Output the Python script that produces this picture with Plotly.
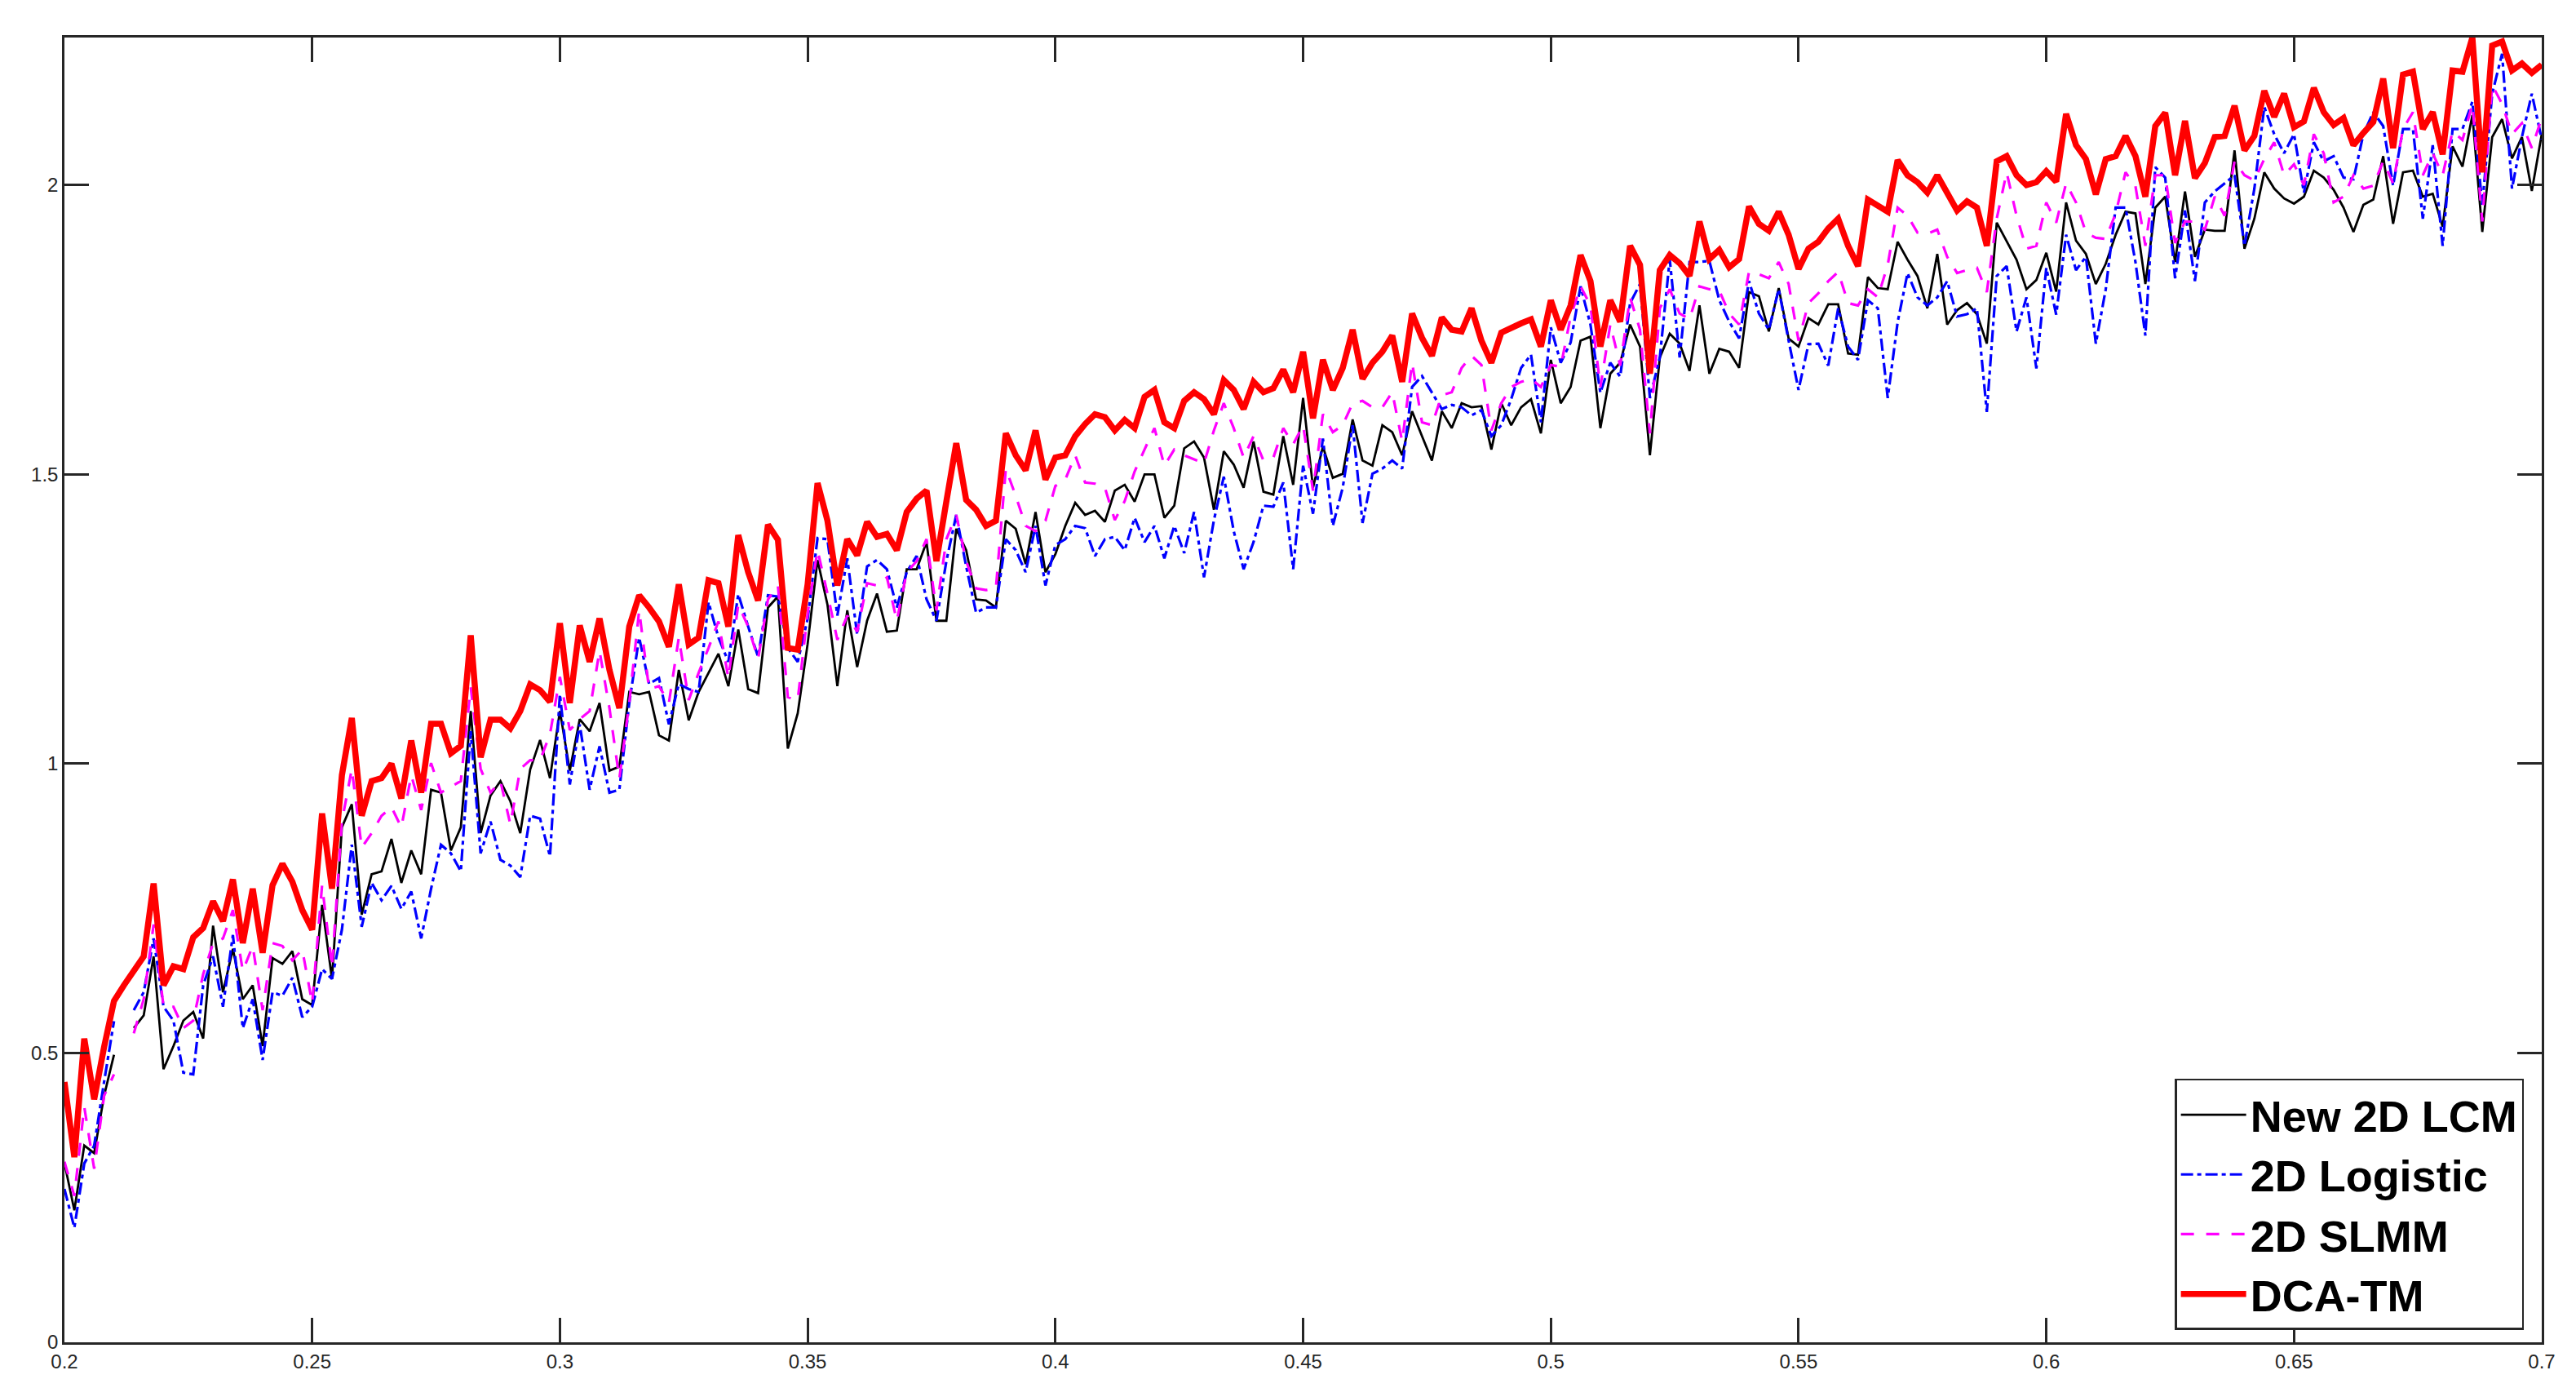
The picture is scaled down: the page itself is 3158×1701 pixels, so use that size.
import numpy as np
import plotly.graph_objects as go

# values, one sample every 0.002 from 0.2 to 0.7
new_2d_lcm = [
    0.31, 0.228, 0.34, 0.327, 0.426, 0.497, None, 0.543, 0.565, 0.667,
    0.472, 0.512, 0.556, 0.571, 0.525, 0.72, 0.605, 0.68, 0.593, 0.617,
    0.512, 0.664, 0.654, 0.676, 0.593, 0.583, 0.756, 0.628, 0.89, 0.93,
    0.739, 0.809, 0.814, 0.87, 0.794, 0.85, 0.809, 0.955, 0.95, 0.85,
    0.89, 1.091, 0.88, 0.945, 0.97, 0.935, 0.88, 0.99, 1.041, 0.975,
    1.091, 0.988, 1.077, 1.056, 1.105, 0.988, 0.995, 1.124, 1.12, 1.124,
    1.049, 1.04, 1.162, 1.075, 1.124, 1.157, 1.19, 1.134, 1.232, 1.129,
    1.122, 1.27, 1.289, 1.026, 1.087, 1.207, 1.352, 1.275, 1.134, 1.265,
    1.167, 1.247, 1.294, 1.228, 1.23, 1.336, 1.336, 1.383, 1.247, 1.247,
    1.406, 1.369, 1.284, 1.282, 1.27, 1.42, 1.406, 1.345, 1.435, 1.331,
    1.362, 1.411, 1.451, 1.43, 1.437, 1.418, 1.472, 1.482, 1.453, 1.5,
    1.5, 1.425, 1.446, 1.545, 1.557, 1.529, 1.439, 1.54, 1.517, 1.477,
    1.557, 1.47, 1.465, 1.566, 1.482, 1.632, 1.477, 1.548, 1.494, 1.501,
    1.595, 1.524, 1.515, 1.585, 1.573, 1.533, 1.609, 1.566, 1.524, 1.609,
    1.58, 1.623, 1.616, 1.618, 1.543, 1.623, 1.585, 1.616, 1.63, 1.571,
    1.698, 1.623, 1.651, 1.731, 1.738, 1.58, 1.674, 1.693, 1.759, 1.721,
    1.533, 1.702, 1.743, 1.726, 1.679, 1.792, 1.674, 1.717, 1.712, 1.684,
    1.815, 1.808, 1.747, 1.822, 1.735, 1.721, 1.77, 1.759, 1.794, 1.794,
    1.709, 1.707, 1.841, 1.822, 1.82, 1.902, 1.871, 1.843, 1.787, 1.881,
    1.759, 1.784, 1.796, 1.777, 1.726, 1.935, 1.902, 1.871, 1.82, 1.836,
    1.883, 1.816, 1.97, 1.904, 1.881, 1.829, 1.864, 1.914, 1.954, 1.951,
    1.829, 1.961, 1.98, 1.867, 1.989, 1.876, 1.923, 1.921, 1.921, 2.06,
    1.89, 1.942, 2.022, 1.994, 1.977, 1.968, 1.98, 2.025, 2.013, 1.992,
    1.961, 1.919, 1.966, 1.975, 2.05, 1.933, 2.022, 2.025, 1.98, 1.985,
    1.928, 2.067, 2.032, 2.121, 1.919, 2.083, 2.114, 2.046, 2.083, 1.99,
    2.088,
]

logistic_2d = [
    0.265, 0.198, 0.309, 0.34, 0.45, 0.555, None, 0.574, 0.605, 0.698,
    0.58, 0.556, 0.466, 0.463, 0.617, 0.667, 0.58, 0.704, 0.543, 0.593,
    0.488, 0.605, 0.599, 0.63, 0.562, 0.58, 0.645, 0.628, 0.713, 0.86,
    0.718, 0.794, 0.764, 0.789, 0.749, 0.779, 0.698, 0.784, 0.86, 0.845,
    0.814, 1.056, 0.845, 0.90, 0.834, 0.824, 0.804, 0.91, 0.905, 0.84,
    1.12, 0.964, 1.068, 0.955, 1.03, 0.95, 0.955, 1.105, 1.218, 1.138,
    1.148, 1.068, 1.138, 1.129, 1.124, 1.279, 1.218, 1.176, 1.293, 1.237,
    1.185, 1.291, 1.289, 1.2, 1.176, 1.25, 1.39, 1.388, 1.256, 1.355,
    1.223, 1.341, 1.352, 1.336, 1.27, 1.331, 1.359, 1.284, 1.247, 1.35,
    1.43, 1.341, 1.261, 1.27, 1.27, 1.388, 1.369, 1.331, 1.411, 1.308,
    1.378, 1.388, 1.411, 1.407, 1.359, 1.388, 1.392, 1.369, 1.425, 1.383,
    1.411, 1.355, 1.411, 1.364, 1.435, 1.322, 1.421, 1.496, 1.402, 1.336,
    1.383, 1.446, 1.444, 1.486, 1.336, 1.515, 1.432, 1.562, 1.411, 1.477,
    1.585, 1.416, 1.501, 1.51, 1.524, 1.51, 1.651, 1.67, 1.642, 1.613,
    1.62, 1.616, 1.602, 1.611, 1.566, 1.585, 1.63, 1.684, 1.707, 1.59,
    1.754, 1.693, 1.728, 1.825, 1.759, 1.641, 1.693, 1.669, 1.796, 1.829,
    1.632, 1.702, 1.872, 1.702, 1.867, 1.867, 1.869, 1.801, 1.764, 1.735,
    1.834, 1.778, 1.75, 1.82, 1.731, 1.646, 1.725, 1.726, 1.688, 1.787,
    1.721, 1.698, 1.801, 1.787, 1.632, 1.763, 1.848, 1.806, 1.792, 1.806,
    1.834, 1.773, 1.777, 1.787, 1.608, 1.843, 1.86, 1.747, 1.806, 1.683,
    1.857, 1.776, 1.914, 1.853, 1.876, 1.726, 1.82, 1.961, 1.961, 1.867,
    1.74, 2.031, 2.013, 1.839, 1.956, 1.834, 1.97, 1.989, 2.003, 2.017,
    1.895, 1.994, 2.135, 2.088, 2.055, 2.088, 1.987, 2.074, 2.041, 2.05,
    2.013, 2.01, 2.088, 2.126, 2.102, 1.999, 2.097, 2.097, 1.942, 2.069,
    1.895, 2.097, 2.097, 2.144, 1.966, 2.158, 2.227, 1.994, 2.083, 2.158,
    2.079,
]

slmm_2d = [
    0.312, 0.253, 0.407, 0.30, 0.426, 0.463, None, 0.534, 0.593, 0.722,
    0.58, 0.58, 0.543, 0.556, 0.636, 0.69, 0.698, 0.747, 0.642, 0.685,
    0.574, 0.69, 0.685, 0.66, 0.679, 0.586, 0.79, 0.648, 0.90, 0.991,
    0.855, 0.88, 0.91, 0.925, 0.89, 0.98, 0.92, 1.001, 0.95, 0.96,
    0.97, 1.132, 0.991, 0.95, 0.97, 0.895, 0.991, 1.006, 1.006, 1.051,
    1.15, 1.058, 1.077, 1.091, 1.195, 1.096, 0.974, 1.105, 1.265, 1.129,
    1.134, 1.105, 1.218, 1.11, 1.157, 1.2, 1.246, 1.148, 1.275, 1.237,
    1.181, 1.284, 1.308, 1.115, 1.11, 1.26, 1.369, 1.294, 1.214, 1.256,
    1.228, 1.312, 1.308, 1.322, 1.247, 1.331, 1.35, 1.388, 1.265, 1.388,
    1.43, 1.35, 1.303, 1.3, 1.303, 1.51, 1.463, 1.411, 1.402, 1.42,
    1.48, 1.491, 1.533, 1.486, 1.484, 1.477, 1.421, 1.454, 1.505, 1.543,
    1.58, 1.515, 1.543, 1.533, 1.526, 1.519, 1.576, 1.623, 1.58, 1.529,
    1.566, 1.524, 1.529, 1.58, 1.552, 1.585, 1.472, 1.604, 1.573, 1.585,
    1.623, 1.627, 1.616, 1.616, 1.642, 1.557, 1.693, 1.59, 1.585, 1.637,
    1.642, 1.684, 1.705, 1.689, 1.576, 1.623, 1.651, 1.66, 1.665, 1.651,
    1.689, 1.686, 1.773, 1.825, 1.792, 1.651, 1.759, 1.688, 1.806, 1.75,
    1.571, 1.787, 1.82, 1.778, 1.768, 1.825, 1.82, 1.818, 1.778, 1.759,
    1.85, 1.846, 1.839, 1.867, 1.829, 1.731, 1.796, 1.813, 1.834, 1.85,
    1.796, 1.792, 1.82, 1.806, 1.862, 1.961, 1.947, 1.918, 1.916, 1.923,
    1.876, 1.848, 1.853, 1.857, 1.815, 1.942, 2.022, 1.947, 1.89, 1.895,
    1.97, 1.935, 2.003, 1.97, 1.918, 1.909, 1.907, 1.951, 2.022, 1.998,
    1.895, 2.017, 2.017, 1.9, 1.937, 1.937, 1.923, 1.98, 1.947, 2.041,
    2.017, 2.008, 2.045, 2.074, 2.017, 2.036, 2.0, 2.088, 2.055, 1.97,
    1.98, 2.017, 1.994, 1.999, 2.041, 2.003, 2.097, 2.126, 2.017, 2.055,
    2.017, 2.093, 2.078, 2.14, 1.937, 2.173, 2.14, 2.088, 2.107, 2.064,
    2.116,
]

dca_tm = [
    0.45, 0.32, 0.525, 0.42, 0.51, 0.59, 0.617, 0.642, 0.667, 0.793,
    0.617, 0.65, 0.645, 0.70, 0.716, 0.762, 0.728, 0.80, 0.69, 0.784,
    0.673, 0.79, 0.827, 0.796, 0.747, 0.713, 0.914, 0.784, 0.98, 1.079,
    0.91, 0.97, 0.975, 1.0, 0.94, 1.04, 0.95, 1.069, 1.069, 1.018,
    1.031, 1.222, 1.011, 1.076, 1.076, 1.061, 1.091, 1.137, 1.127, 1.107,
    1.243, 1.105, 1.239, 1.176, 1.251, 1.162, 1.096, 1.237, 1.291, 1.27,
    1.246, 1.202, 1.31, 1.206, 1.218, 1.317, 1.312, 1.237, 1.395, 1.331,
    1.282, 1.413, 1.387, 1.2, 1.197, 1.31, 1.485, 1.42, 1.308, 1.388,
    1.36, 1.418, 1.392, 1.397, 1.369, 1.435, 1.458, 1.472, 1.35, 1.453,
    1.554, 1.456, 1.439, 1.411, 1.42, 1.571, 1.533, 1.507, 1.576, 1.491,
    1.529, 1.533, 1.566, 1.587, 1.604, 1.599, 1.576, 1.594, 1.58, 1.634,
    1.646, 1.59, 1.58, 1.627, 1.642, 1.63, 1.604, 1.663, 1.646, 1.613,
    1.66, 1.642, 1.649, 1.681, 1.642, 1.712, 1.597, 1.698, 1.646, 1.684,
    1.75, 1.665, 1.693, 1.712, 1.74, 1.66, 1.778, 1.736, 1.705, 1.771,
    1.75, 1.747, 1.787, 1.731, 1.693, 1.745, 1.754, 1.761, 1.768, 1.721,
    1.801, 1.75, 1.792, 1.879, 1.834, 1.721, 1.801, 1.764, 1.895, 1.862,
    1.674, 1.853, 1.879, 1.865, 1.843, 1.937, 1.872, 1.888, 1.858, 1.872,
    1.963, 1.933, 1.921, 1.954, 1.914, 1.855, 1.89, 1.902, 1.925, 1.942,
    1.895, 1.86, 1.975, 1.965, 1.954, 2.043, 2.017, 2.005, 1.987, 2.017,
    1.987, 1.956, 1.972, 1.961, 1.895, 2.041, 2.05, 2.017, 2.0, 2.005,
    2.024, 2.006, 2.123, 2.069, 2.045, 1.984, 2.045, 2.05, 2.085, 2.05,
    1.98, 2.102, 2.125, 2.017, 2.111, 2.012, 2.038, 2.083, 2.085, 2.137,
    2.06, 2.085, 2.163, 2.118, 2.158, 2.1, 2.11, 2.168, 2.126, 2.104,
    2.116, 2.069, 2.09, 2.109, 2.184, 2.064, 2.191, 2.196, 2.097, 2.126,
    2.053, 2.198, 2.196, 2.255, 2.022, 2.241, 2.248, 2.198, 2.21, 2.194,
    2.208,
]

X_MIN, X_MAX = 0.2, 0.7
x = np.linspace(X_MIN, X_MAX, len(dca_tm))

x_ticks = [0.2, 0.25, 0.3, 0.35, 0.4, 0.45, 0.5, 0.55, 0.6, 0.65, 0.7]
x_labels = ["0.2", "0.25", "0.3", "0.35", "0.4", "0.45", "0.5", "0.55", "0.6", "0.65", "0.7"]
y_ticks = [0, 0.5, 1, 1.5, 2]
y_labels = ["0", "0.5", "1", "1.5", "2"]

AXIS_COLOR = "#262626"
FONT = "Arial, Liberation Sans, sans-serif"

fig = go.Figure()

# matlab-ish line styles: '-', '-.', '--', thick '-'
series = [
    ("New 2D LCM", new_2d_lcm, dict(color="black", width=2.8, dash="solid")),
    ("2D Logistic", logistic_2d, dict(color="#0000ff", width=3.2, dash="15px,5px,5px,5px")),
    ("2D SLMM", slmm_2d, dict(color="#ff00ff", width=3.2, dash="16px,15px")),
    ("DCA-TM", dca_tm, dict(color="#ff0000", width=7.5, dash="solid")),
]
for name, vals, line in series:
    fig.add_trace(go.Scatter(
        x=x, y=vals, mode="lines", name=name, line=line,
        connectgaps=False,
    ))

axis_common = dict(
    showline=True, linecolor=AXIS_COLOR, linewidth=2.5,
    mirror="ticks", ticks="inside", ticklen=30, tickwidth=2.5,
    tickcolor=AXIS_COLOR, showgrid=False, zeroline=False,
    tickfont=dict(family=FONT, size=24, color=AXIS_COLOR),
)

fig.update_xaxes(range=[X_MIN, X_MAX], tickvals=x_ticks, ticktext=x_labels, **axis_common)
fig.update_yaxes(range=[0, 2.255], tickvals=y_ticks, ticktext=y_labels, **axis_common)

fig.update_layout(
    width=3158, height=1701,
    margin=dict(l=71, r=50, t=38, b=64),
    plot_bgcolor="white", paper_bgcolor="white",
    legend=dict(
        x=0.9928, y=0.0094, xanchor="right", yanchor="bottom",
        bgcolor="white", bordercolor=AXIS_COLOR, borderwidth=2.5,
        font=dict(family=FONT, size=54, color="black", weight="bold"),
        itemwidth=80, tracegroupgap=0,
    ),
    showlegend=True,
)

fig.write_html("out.html")
